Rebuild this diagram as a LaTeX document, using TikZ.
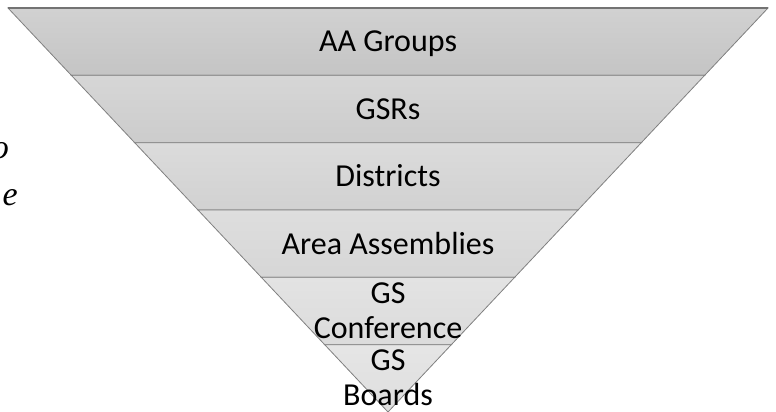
\documentclass[tikz,border=0pt]{standalone}
\usepackage{fontspec}
\setmainfont{Carlito}
\newfontfamily\fragfont{Liberation Serif}
\begin{document}
\begin{tikzpicture}[x=1pt,y=-1pt,
  band/.style={draw=black!50, line width=0.8pt, line join=miter},
  label/.style={inner sep=0pt, anchor=base, align=center, text=black,
    font=\fontsize{32}{35}\selectfont},
  frag/.style={inner sep=0pt, anchor=base east,
    font=\fragfont\itshape\fontsize{34}{40}\selectfont}]
\useasboundingbox (0,0) rectangle (776,412);
% corner points of the inverted pyramid
\foreach \k in {0,...,6}{
  \pgfmathsetmacro\yy{8+\k*404/6}
  \pgfmathsetmacro\hh{380*(6-\k)/6}
  \coordinate (L\k) at (388-\hh,\yy);
  \coordinate (R\k) at (388+\hh,\yy);
}
% bands
\foreach \k/\t/\b in {0/82/77, 1/84/80, 2/86/82, 3/87/84, 4/89/86, 5/90/87}{
  \pgfmathtruncatemacro\n{\k+1}
  \path[band, top color=white!\t!black, bottom color=white!\b!black]
    (L\k) -- (R\k) -- (R\n) -- (L\n) -- cycle;
}
\draw[black!55, line width=1.6pt] (L0) -- (R0);
% labels
\node[label] (aa)   at (388,52)    {AA Groups};
\node[label] (gsr)  at (388,119)   {GSRs};
\node[label] (dist) at (388,186.5) {Districts};
\node[label] (area) at (388,254.5) {Area Assemblies};
\node[label] (conf) at (388,338)   {GS\\Conference};
\node[label] (brd)  at (388,405)   {GS\\Boards};
% clipped text fragments at the left edge
\node[frag] (fragO) at (9,158) {o};
\node[frag] (fragE) at (18,205) {e};
\end{tikzpicture}
\end{document}
